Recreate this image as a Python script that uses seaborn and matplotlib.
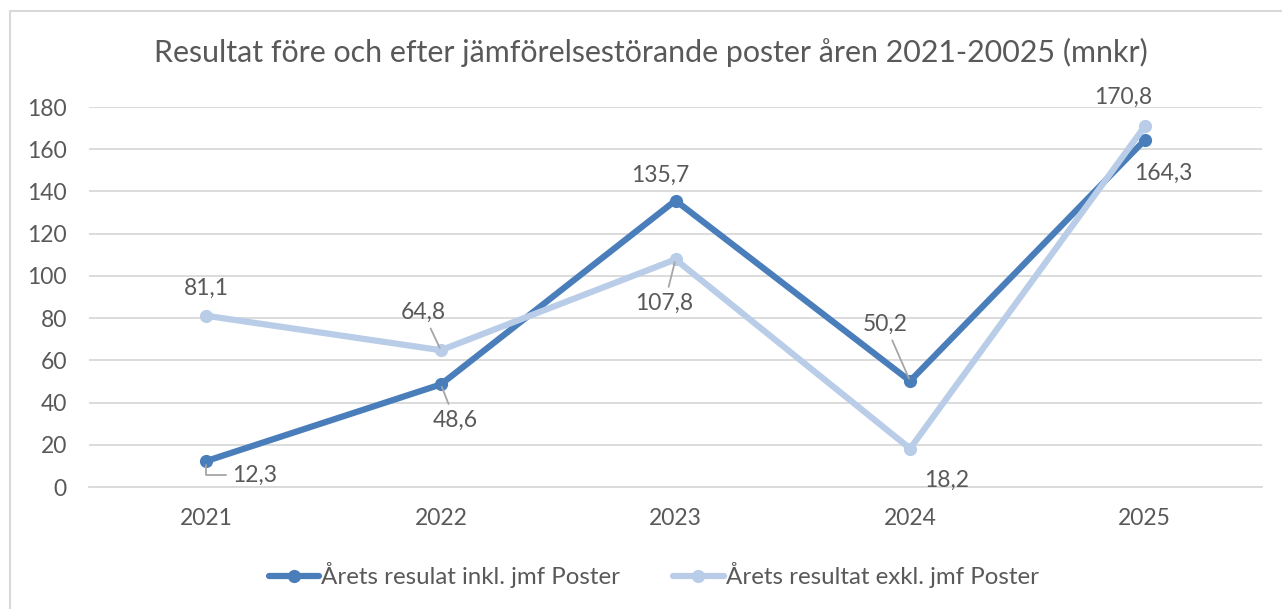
import matplotlib
matplotlib.use("Agg")
import matplotlib.pyplot as plt
import seaborn as sns
import pandas as pd
from matplotlib.patches import Rectangle

years = ["2021", "2022", "2023", "2024", "2025"]
incl = [12.3, 48.6, 135.7, 50.2, 164.3]
exkl = [81.1, 64.8, 107.8, 18.2, 170.8]
series_names = ["Årets resulat inkl. jmf Poster", "Årets resultat exkl. jmf Poster"]
yticks = [0, 20, 40, 60, 80, 100, 120, 140, 160, 180]
title = "Resultat före och efter jämförelsestörande poster åren 2021-20025 (mnkr)"

sns.set_theme(style="white")
plt.rcParams['font.family'] = ['Lato', 'DejaVu Sans']

df = pd.DataFrame({
    "year": years * 2,
    "value": incl + exkl,
    "series": [series_names[0]] * 5 + [series_names[1]] * 5,
})

dark = "#4A7EBB"
light = "#B9CDE8"
text_c = "#595959"

fig = plt.figure(figsize=(12.82, 6.09), dpi=100)
ax = fig.add_axes([89/1282, 1-487/609, (1262-89)/1282, (487-107)/609])

# border
fig.patches.append(Rectangle((10/1282, -0.01), 1.02, 1-11/609+0.01, transform=fig.transFigure,
                             fill=False, edgecolor="#D9D9D9", linewidth=1.5))

sns.lineplot(data=df, x="year", y="value", hue="series", palette=[dark, light],
             marker="o", markersize=9.5, linewidth=4.5, markeredgewidth=0,
             sort=False, ax=ax, legend=True, zorder=3)

ax.set_xlim(-0.5, 4.5)
ax.set_ylim(0, 180)
ax.set_yticks(yticks)
ax.set_yticklabels([str(t) for t in yticks])
ax.yaxis.grid(True, color="#D9D9D9", linewidth=1.3)
ax.set_axisbelow(True)
for s in ["left", "right", "top"]:
    ax.spines[s].set_visible(False)
ax.spines["bottom"].set_color("#D9D9D9")
ax.spines["bottom"].set_linewidth(1.3)
ax.tick_params(axis="both", length=0, labelsize=16.5, colors=text_c)
ax.tick_params(axis="y", pad=16)
ax.tick_params(axis="x", pad=15)
ax.set_xlabel("")
ax.set_ylabel("")

fig.text(0.508, 1-52/609, title, ha="center", va="center", fontsize=21.9, color=text_c)

def fmt(v):
    return f"{v:.1f}".replace(".", ",")

# label offsets in pixels (dx, dy), leader line style (None = no leader)
incl_off = [(48, -14, "angle"), (14, -36, "arc3"), (-15, 25, None), (-25, 57, "arc3"), (19, -33, None)]
exkl_off = [(0, 27, None), (-18, 38, "arc3"), (-11, -44, "arc3"), (37, -32, None), (-22, 29, None)]

for vals, offs in [(incl, incl_off), (exkl, exkl_off)]:
    for i, (v, (dx, dy, lead)) in enumerate(zip(vals, offs)):
        kw = {}
        if lead == "angle":
            kw["arrowprops"] = dict(arrowstyle="-", color="#A6A6A6", lw=1.3,
                                    shrinkA=2, shrinkB=3,
                                    connectionstyle="angle,angleA=0,angleB=90,rad=0")
        elif lead:
            kw["arrowprops"] = dict(arrowstyle="-", color="#A6A6A6", lw=1.3,
                                    shrinkA=2, shrinkB=2)
        ax.annotate(fmt(v), xy=(i, v), xytext=(dx, dy), textcoords="offset pixels",
                    ha="center", va="center", fontsize=16.5, color=text_c, zorder=5, **kw)

handles, labels = ax.get_legend_handles_labels()
ax.get_legend().remove()
fig.legend(handles, labels, loc="center", bbox_to_anchor=(0.51, 1-575/609), ncol=2,
           frameon=False, fontsize=17.3, labelcolor=text_c, handlelength=2.1,
           handletextpad=0.1, columnspacing=2.2)

fig.savefig("out.png", dpi=100)
